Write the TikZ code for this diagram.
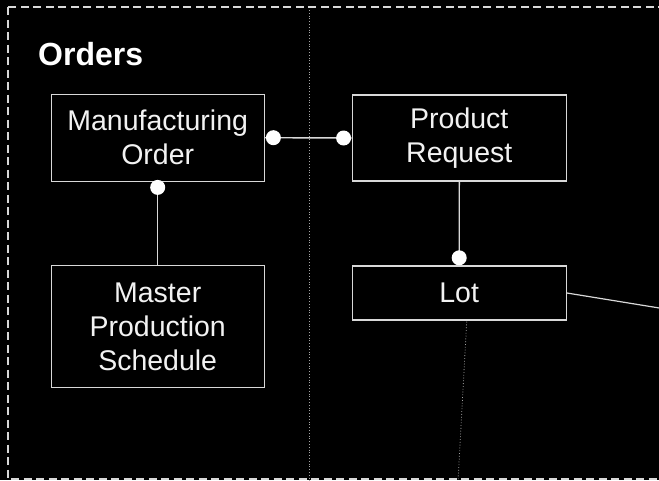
\documentclass[tikz,border=0pt]{standalone}
\usepackage{fontspec}
\setmainfont{Liberation Sans}
\usetikzlibrary{calc}
\definecolor{edge}{HTML}{D8D8D8}
\definecolor{txt}{HTML}{F2F2F2}
\tikzset{
  entity/.style={draw=edge, line width=1.4pt, fill=black, text=txt, align=center,
    inner sep=0pt, font=\fontsize{28.5}{34}\selectfont},
  link/.style={draw=edge, line width=1.4pt},
  enddot/.style={fill=white, draw=none},
  lane/.style={draw=gray!70, line width=0.8pt, dotted},
  frame/.style={draw=edge, line width=1.5pt, dash pattern=on 8pt off 4.5pt},
  title/.style={text=white, font=\bfseries\fontsize{32}{38}\selectfont, inner sep=0pt, anchor=base west}
}
\begin{document}
\begin{tikzpicture}[x=1pt, y=-1pt]
\useasboundingbox (0,0) rectangle (659,480);
\fill[black] (0,0) rectangle (659,480);
\clip (0,0) rectangle (659,480);
\draw[frame] (8,7) rectangle (740,479);
\coordinate (laneTop) at (309,10);
\coordinate (laneBot) at (309,500);
\draw[lane] (laneTop) -- (laneBot);
\node[title] (orders) at (38,65) {Orders};

\node[entity, minimum width=213pt, minimum height=87pt] (mo) at (157.7,137.7) {Manufacturing\\Order};
\node[entity, minimum width=214pt, minimum height=86pt] (pr) at (459.3,138) {Product\\Request};
\node[entity, minimum width=213pt, minimum height=121.5pt] (mps) at (157.7,326.5) {Master\\Production\\Schedule};
\node[entity, minimum width=214pt, minimum height=54pt] (lot) at (459.2,293) {Lot};

\coordinate (offA) at (700,314.6);
\coordinate (offB) at (457,500);

\draw[link] (mo.east) -- (pr.west);
\fill[enddot] ($(mo.east)+(8.5,0)$) circle (7.5);
\fill[enddot] ($(pr.west)+(-8,0)$) circle (7.5);

\draw[link] (mo.south) -- (mps.north);
\fill[enddot] ($(mo.south)+(0,5.5)$) circle (7.5);

\draw[link] (pr.south) -- (lot.north);
\fill[enddot] ($(lot.north)+(0,-7.5)$) circle (7.5);

\draw[link, line width=1.2pt] (lot.east) -- (offA);
\draw[lane] ($(lot.south)+(7.5,1)$) -- (offB);
\end{tikzpicture}
\end{document}
